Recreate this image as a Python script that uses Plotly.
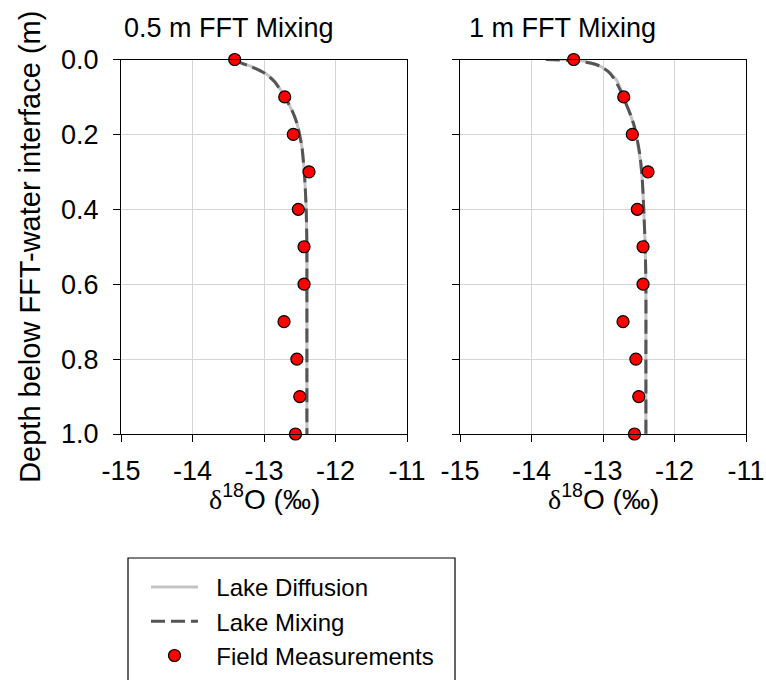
import plotly.graph_objects as go

# Field measurements (depth below FFT-water interface, m) and delta-18O (per mil)
field_depth = [0.0, 0.1, 0.2, 0.3, 0.4, 0.5, 0.6, 0.7, 0.8, 0.9, 1.0]
field_d18o = [-13.41, -12.71, -12.59, -12.37, -12.52, -12.44, -12.44, -12.72, -12.54, -12.50, -12.56]

# Modelled profiles, 0.5 m FFT mixing
m05_depth = [0.0, 0.008, 0.02, 0.037, 0.06, 0.1, 0.135, 0.17, 0.233, 0.32, 0.4, 0.5, 0.6, 0.8, 1.0]
m05_diffusion = [-13.42, -13.33, -13.16, -12.98, -12.84, -12.71, -12.61, -12.54, -12.47, -12.43, -12.41, -12.40, -12.40, -12.40, -12.40]
m05_mixing = [-13.42, -13.34, -13.17, -12.99, -12.85, -12.71, -12.61, -12.54, -12.47, -12.43, -12.41, -12.40, -12.40, -12.40, -12.40]

# Modelled profiles, 1 m FFT mixing
m1_diff_depth = [0.0, 0.001, 0.01, 0.02, 0.037, 0.055, 0.095, 0.15, 0.2, 0.3, 0.4, 0.5, 0.6, 0.8, 1.0]
m1_diffusion = [-13.80, -13.40, -13.15, -13.02, -12.90, -12.81, -12.72, -12.61, -12.54, -12.46, -12.43, -12.41, -12.40, -12.40, -12.40]
m1_mix_depth = [0.0, 0.002, 0.006, 0.012, 0.019, 0.033, 0.05, 0.081, 0.113, 0.15, 0.179, 0.215, 0.26, 0.322, 0.4, 0.5, 0.6, 0.8, 1.0]
m1_mixing = [-13.80, -13.50, -13.28, -13.12, -13.03, -12.92, -12.85, -12.76, -12.69, -12.61, -12.56, -12.52, -12.48, -12.45, -12.43, -12.41, -12.40, -12.40, -12.40]

panel_titles = ["0.5 m FFT Mixing", "1 m FFT Mixing"]
x_ticks = [-15, -14, -13, -12, -11]
x_ticktext = ["-15", "-14", "-13", "-12", "-11"]
y_ticks = [0.0, 0.2, 0.4, 0.6, 0.8, 1.0]

FONT = "Liberation Sans, Arial, sans-serif"
DIFF_COLOR = "#c4c4c4"
MIX_COLOR = "#555555"
PAD = "\u00a0\u00a0"  # small gap between legend symbol and label

fig = go.Figure()

panels = [
    ("x", "y", m05_depth, m05_diffusion, m05_depth, m05_mixing, True),
    ("x2", "y2", m1_diff_depth, m1_diffusion, m1_mix_depth, m1_mixing, False),
]
for xa, ya, d_dep, diff, m_dep, mix, show in panels:
    fig.add_trace(go.Scatter(
        x=diff, y=d_dep, xaxis=xa, yaxis=ya, mode="lines",
        line=dict(color=DIFF_COLOR, width=3, shape="spline", smoothing=0.6),
        name=PAD + "Lake Diffusion", showlegend=show, cliponaxis=False))
    fig.add_trace(go.Scatter(
        x=mix, y=m_dep, xaxis=xa, yaxis=ya, mode="lines",
        line=dict(color=MIX_COLOR, width=3, dash="14px,6px", shape="spline", smoothing=0.6),
        name=PAD + "Lake Mixing", showlegend=show, cliponaxis=False))
    fig.add_trace(go.Scatter(
        x=field_d18o, y=field_depth, xaxis=xa, yaxis=ya, mode="markers",
        marker=dict(color="#ff0000", size=12, line=dict(color="black", width=1.2)),
        name=PAD + "Field Measurements", showlegend=show, cliponaxis=False))

xtitle = "<span style='font-family:Liberation Serif, Times New Roman, serif'>δ</span><sup>18</sup>O (‰)"

common_x = dict(
    range=[-15, -11], tickvals=x_ticks, ticktext=x_ticktext, automargin=False,
    showline=True, mirror=True, linecolor="black", linewidth=1,
    ticks="outside", ticklen=7, tickcolor="black", ticklabelstandoff=6,
    showgrid=True, gridcolor="#d4d4d4", gridwidth=1, zeroline=False,
    tickfont=dict(size=27, color="black", family=FONT),
)
common_y = dict(
    range=[1.0, 0.0], tickvals=y_ticks, tickformat=".1f", automargin=False,
    showline=True, mirror=True, linecolor="black", linewidth=1,
    ticks="outside", ticklen=7, tickcolor="black",
    showgrid=True, gridcolor="#d4d4d4", gridwidth=1, zeroline=False,
    tickfont=dict(size=27, color="black", family=FONT),
    domain=[1 - 434 / 680, 1 - 59.5 / 680],
)

fig.update_layout(
    width=766, height=680,
    margin=dict(l=0, r=0, t=0, b=0, autoexpand=False),
    paper_bgcolor="white", plot_bgcolor="white",
    font=dict(family=FONT, color="black"),
    xaxis=dict(common_x, domain=[121 / 766, 407 / 766], anchor="y"),
    xaxis2=dict(common_x, domain=[460 / 766, 746 / 766], anchor="y2"),
    yaxis=dict(common_y, anchor="x", ticklabelstandoff=9,
               title=dict(text="Depth below FFT-water interface (m)",
                          font=dict(size=29, color="black", family=FONT), standoff=11)),
    yaxis2=dict(common_y, anchor="x2", showticklabels=False),
    legend=dict(
        x=146 / 766, y=1 - 565 / 680, xanchor="left", yanchor="top",
        bgcolor="rgba(0,0,0,0)", borderwidth=0,
        font=dict(size=24, color="black", family=FONT),
        itemwidth=47,
    ),
    shapes=[dict(type="rect", xref="paper", yref="paper",
                 x0=128 / 766, x1=455 / 766, y0=1 - 558 / 680, y1=-0.05,
                 line=dict(color="black", width=1.2))],
)

# Panel headings
for title, x0 in zip(panel_titles, [122 / 766, 467 / 766]):
    fig.add_annotation(text=title, xref="paper", yref="paper", x=x0, y=1 - 28 / 680,
                       xanchor="left", yanchor="middle", showarrow=False,
                       font=dict(size=27, color="black", family=FONT))

# x-axis titles, centred under each panel
for xdom in ["x domain", "x2 domain"]:
    fig.add_annotation(text=xtitle, xref=xdom, yref="paper", x=0.5, y=1 - 497 / 680,
                       xanchor="center", yanchor="middle", showarrow=False,
                       font=dict(size=28, color="black", family=FONT))

fig.write_html("out.html")
